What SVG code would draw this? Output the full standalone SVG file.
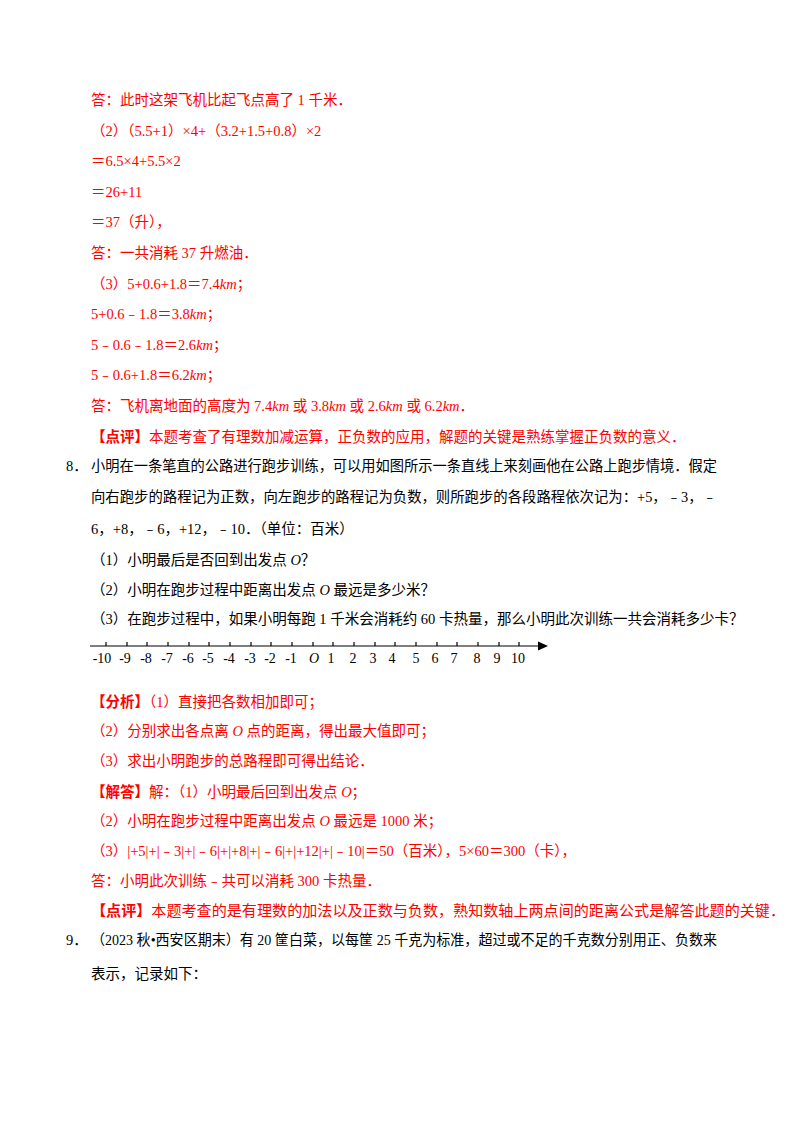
<svg xmlns="http://www.w3.org/2000/svg" width="800" height="1132" viewBox="0 0 800 1132">
<style>
text{font-family:"Liberation Serif","Noto Sans CJK SC",serif;font-size:14.5px;fill:#000}
.r{fill:#f00}
.b{font-weight:bold}
.n{font-size:14px}
</style>
<rect width="800" height="1132" fill="#fff"/>
<g id="text">
<text class="r" x="91" y="105">答：此时这架飞机比起飞点高了 1 千米．</text>
<text class="r" x="91" y="136">（2）（5.5+1）×4+（3.2+1.5+0.8）×2</text>
<text class="r" x="91" y="166">＝6.5×4+5.5×2</text>
<text class="r" x="91" y="197">＝26+11</text>
<text class="r" x="91" y="227">＝37（升），</text>
<text class="r" x="91" y="258">答：一共消耗 37 升燃油．</text>
<text class="r" x="91" y="289">（3）5+0.6+1.8＝7.4<tspan font-style="italic">km</tspan>；</text>
<text class="r" x="91" y="319">5+0.6﹣1.8＝3.8<tspan font-style="italic">km</tspan>；</text>
<text class="r" x="91" y="350">5﹣0.6﹣1.8＝2.6<tspan font-style="italic">km</tspan>；</text>
<text class="r" x="91" y="380">5﹣0.6+1.8＝6.2<tspan font-style="italic">km</tspan>；</text>
<text class="r" x="91" y="411">答：飞机离地面的高度为 7.4<tspan font-style="italic">km</tspan> 或 3.8<tspan font-style="italic">km</tspan> 或 2.6<tspan font-style="italic">km</tspan> 或 6.2<tspan font-style="italic">km</tspan>．</text>
<text class="r" x="91" y="442"><tspan class="b">【点评】</tspan>本题考查了有理数加减运算，正负数的应用，解题的关键是熟练掌握正负数的意义．</text>
<text x="66" y="471">8．</text>
<text x="91" y="471" textLength="626" lengthAdjust="spacingAndGlyphs">小明在一条笔直的公路进行跑步训练，可以用如图所示一条直线上来刻画他在公路上跑步情境．假定</text>
<text x="91" y="502" textLength="626" lengthAdjust="spacingAndGlyphs">向右跑步的路程记为正数，向左跑步的路程记为负数，则所跑步的各段路程依次记为：+5，﹣3，﹣</text>
<text x="91" y="534">6，+8，﹣6，+12，﹣10．（单位：百米）</text>
<text x="91" y="565">（1）小明最后是否回到出发点 <tspan font-style="italic">O</tspan>？</text>
<text x="91" y="595">（2）小明在跑步过程中距离出发点 <tspan font-style="italic">O</tspan> 最远是多少米？</text>
<text x="91" y="624">（3）在跑步过程中，如果小明每跑 1 千米会消耗约 60 卡热量，那么小明此次训练一共会消耗多少卡？</text>
<text class="r" x="91" y="707"><tspan class="b">【分析】</tspan>（1）直接把各数相加即可；</text>
<text class="r" x="91" y="736">（2）分别求出各点离 <tspan font-style="italic">O</tspan> 点的距离，得出最大值即可；</text>
<text class="r" x="91" y="766">（3）求出小明跑步的总路程即可得出结论．</text>
<text class="r" x="91" y="797"><tspan class="b">【解答】</tspan>解：（1）小明最后回到出发点 <tspan font-style="italic">O</tspan>；</text>
<text class="r" x="91" y="826">（2）小明在跑步过程中距离出发点 <tspan font-style="italic">O</tspan> 最远是 1000 米；</text>
<text class="r" x="91" y="856">（3）|+5|+|﹣3|+|﹣6|+|+8|+|﹣6|+|+12|+|﹣10|＝50（百米），5×60＝300（卡），</text>
<text class="r" x="91" y="886">答：小明此次训练﹣共可以消耗 300 卡热量．</text>
<text class="r" x="91" y="916" textLength="694" lengthAdjust="spacingAndGlyphs"><tspan class="b">【点评】</tspan>本题考查的是有理数的加法以及正数与负数，熟知数轴上两点间的距离公式是解答此题的关键．</text>
<text x="66" y="945">9．</text>
<text x="91" y="945" textLength="626" lengthAdjust="spacingAndGlyphs">（2023 秋•西安区期末）有 20 筐白菜，以每筐 25 千克为标准，超过或不足的千克数分别用正、负数来</text>
<text x="91" y="979">表示，记录如下：</text>
</g>
<g id="numberline">
<line x1="90" y1="646" x2="540" y2="646" stroke="#000" stroke-width="1.2"/>
<polygon points="548,646 538,641.5 538,650.5" fill="#000"/>
<path stroke="#000" stroke-width="1.2" d="M106,642v4M127,642v4M147,642v4M168,642v4M189,642v4M209,642v4M230,642v4M251,642v4M271,642v4M292,642v4M313,642v4M333,642v4M354,642v4M375,642v4M395,642v4M416,642v4M437,642v4M457,642v4M478,642v4M499,642v4M519,642v4"/>
<g text-anchor="middle">
<text class="n" x="102" y="663">-10</text><text class="n" x="125" y="663">-9</text><text class="n" x="146" y="663">-8</text><text class="n" x="167" y="663">-7</text><text class="n" x="188" y="663">-6</text><text class="n" x="208" y="663">-5</text><text class="n" x="229" y="663">-4</text><text class="n" x="250" y="663">-3</text><text class="n" x="270" y="663">-2</text><text class="n" x="291" y="663">-1</text><text class="n" x="314" y="663" font-style="italic">O</text><text class="n" x="331" y="663">1</text><text class="n" x="353" y="663">2</text><text class="n" x="373" y="663">3</text><text class="n" x="392" y="663">4</text><text class="n" x="416" y="663">5</text><text class="n" x="435" y="663">6</text><text class="n" x="454" y="663">7</text><text class="n" x="477" y="663">8</text><text class="n" x="497" y="663">9</text><text class="n" x="518" y="663">10</text>
</g>
</g>
</svg>
